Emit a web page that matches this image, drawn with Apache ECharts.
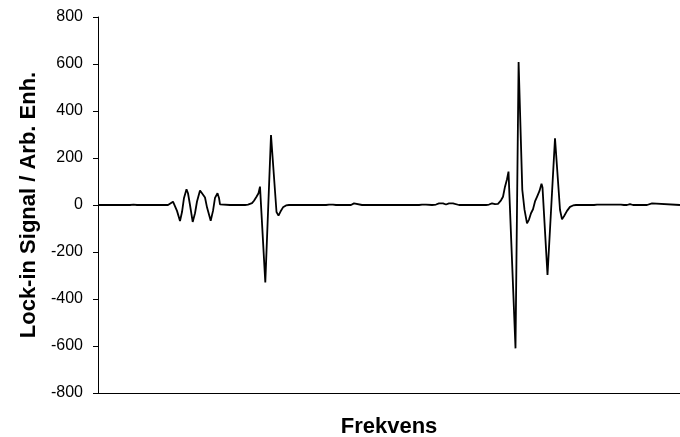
<!DOCTYPE html>
<html>
<head>
<meta charset="utf-8">
<script src="https://cdn.jsdelivr.net/npm/echarts@6/dist/echarts.min.js"></script>
<style>html,body{margin:0;padding:0;background:#fff;}#c{width:680px;height:437px;}</style>
</head>
<body>
<div id="c"></div>
<script>
// Frequency (arbitrary units) and lock-in signal (arb. units)
var freq = [1,5,7,9,22,24,26,32,34,35.5,37,39,57,59,60.5,62,64,70,72,
  75,77,79,82,84,86,88.5,90,92,94.7,97,99,102,104,107,109,112.7,115,117,119.5,121,122,124,
  132,144,145.5,147,150,152,154,
  156,158.5,160.5,162,167.3,168.2,173,174,178.5,180.5,182.5,185,188,191,
  201,202,203,219,220,221,228,229,231,233,235,237,238,244,245,246,253,254,256,257,264,265,266,271,272,273,281,282,283,291,292,293,301,302,303,308,309,310,321,322,324,326,328,329,330,334,335,338,341,345,348,351,355,356,361,362,363,371,372,373,378,379,380,388,389,391,394,397,399,
  400,403,405,407,409,410.5,417.5,418.4,420.6,421.4,424.3,426.5,429,431,433,435,437,439,441.5,443.5,444.5,449.5,450.4,457,458,462,464,466,469,472,475,478,
  488,489,490,496,497,499,501,503,505,507,509,511,513,515,517,519,521,523,525,526,529,530,532,534,535,549,550,554,555,582];
var signal = [0,0,6,0,0,6,0,0,6,2,6,0,0,6,0,6,0,0,3,
  14,8,-25,-68,-30,30,67,50,0,-72,-35,15,62,50,32,-10,-67,-25,30,50,30,3,0,
  0,0,6,0,2,4,8,
  18,35,50,78,-330,-325,298,290,-30,-45,-28,-10,-2,0,
  0,7,0,0,7,0,0,7,2,7,2,7,0,0,7,0,0,7,7,0,0,7,0,0,7,0,0,7,0,0,7,0,0,7,0,0,7,0,0,7,2,7,2,7,0,0,7,2,7,7,2,7,7,0,0,7,0,0,7,0,0,7,0,0,7,2,7,4,7,
  5,20,35,78,110,142,-610,-605,608,600,64,-20,-78,-62,-35,-18,15,35,60,90,75,-298,-290,284,282,-20,-61,-48,-25,-8,-2,0,
  0,7,0,0,7,2,7,2,7,2,7,2,7,2,7,2,7,2,7,0,0,7,4,7,0,0,7,7,0,0];
var yTicks = [-800,-600,-400,-200,0,200,400,600,800];

var points = freq.map(function(f, i){ return [f, signal[i]]; });
var FONT = '"Liberation Sans", Arial, sans-serif';
var chart = echarts.init(document.getElementById('c'), null, {renderer:'canvas'});
chart.setOption({
  animation: false,
  backgroundColor: '#ffffff',
  grid: {left: 98, right: 0, top: 17, bottom: 44, containLabel: false, outerBoundsMode: 'none'},
  xAxis: {
    type: 'value', min: 0, max: 582,
    name: 'Frekvens', nameLocation: 'middle', nameGap: 23,
    nameTextStyle: {fontFamily: FONT, fontSize: 22, fontWeight: 'bold', color: '#000'},
    axisLine: {show: true, onZero: false, lineStyle: {color: '#000', width: 1}},
    axisTick: {show: false}, axisLabel: {show: false}, splitLine: {show: false}
  },
  yAxis: {
    type: 'value', min: yTicks[0], max: yTicks[yTicks.length-1], interval: 200,
    name: 'Lock-in Signal / Arb. Enh.', nameLocation: 'middle', nameGap: 55,
    nameTextStyle: {fontFamily: FONT, fontSize: 22, fontWeight: 'bold', color: '#000'},
    axisLine: {show: true, lineStyle: {color: '#000', width: 1}},
    axisTick: {show: true, inside: false, length: 5, lineStyle: {color: '#000'}},
    axisLabel: {fontFamily: FONT, fontSize: 16, color: '#000', margin: 15},
    splitLine: {show: false}
  },
  series: [{
    type: 'line', data: points, symbol: 'none', showSymbol: false,
    lineStyle: {color: '#000', width: 1.8}, clip: false
  }]
});
</script>
</body>
</html>
